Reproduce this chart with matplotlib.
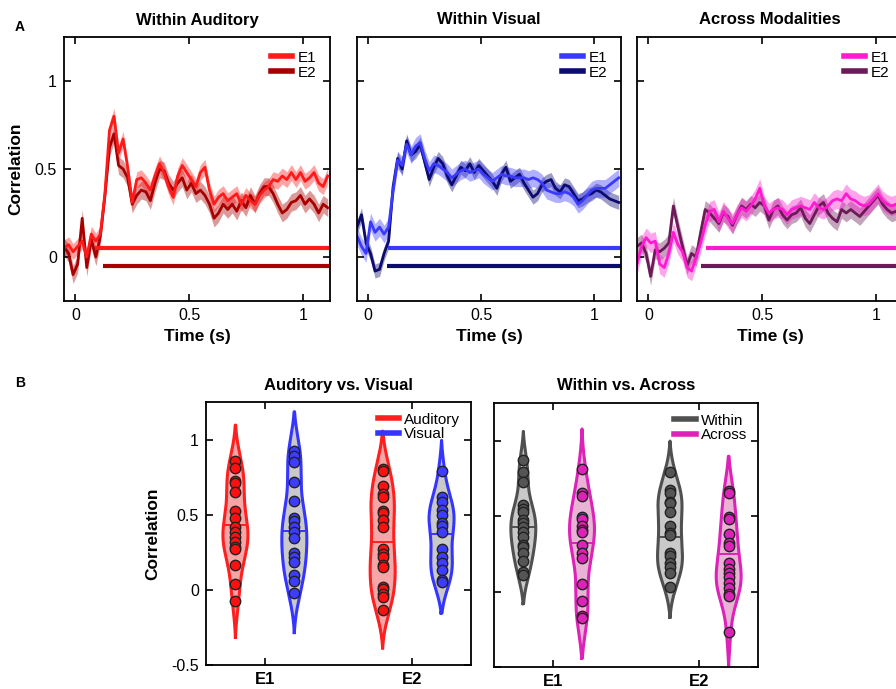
import numpy as np
import matplotlib
matplotlib.use('Agg')
import matplotlib.pyplot as plt
from matplotlib.lines import Line2D

plt.rcParams['font.family'] = ['Liberation Sans', 'DejaVu Sans']
plt.rcParams['axes.unicode_minus'] = False

# ---- panel A data: time courses (mean and sem) ----
time = np.round(np.arange(-0.05, 1.12, 0.02), 2)

aud_e1 = [0.05, 0.07, 0.03, 0.06, 0.09, 0.00, 0.13, 0.09, 0.13, 0.36,
          0.72, 0.80, 0.59, 0.67, 0.51, 0.31, 0.44, 0.45, 0.42, 0.38,
          0.46, 0.53, 0.48, 0.40, 0.34, 0.46, 0.52, 0.48, 0.44, 0.40,
          0.48, 0.51, 0.38, 0.30, 0.34, 0.36, 0.32, 0.34, 0.36, 0.30,
          0.35, 0.32, 0.30, 0.35, 0.38, 0.40, 0.44, 0.43, 0.46, 0.44,
          0.48, 0.44, 0.48, 0.43, 0.45, 0.48, 0.42, 0.40, 0.46]
aud_e2 = [0.06, 0.02, -0.10, -0.04, 0.22, -0.06, 0.10, 0.00, 0.12, 0.35,
          0.62, 0.70, 0.52, 0.50, 0.45, 0.30, 0.35, 0.38, 0.37, 0.32,
          0.42, 0.50, 0.49, 0.42, 0.38, 0.42, 0.45, 0.38, 0.42, 0.36,
          0.38, 0.35, 0.30, 0.22, 0.25, 0.30, 0.27, 0.30, 0.26, 0.32,
          0.28, 0.35, 0.30, 0.36, 0.40, 0.40, 0.36, 0.30, 0.25, 0.27,
          0.31, 0.32, 0.35, 0.30, 0.33, 0.30, 0.25, 0.30, 0.28]
vis_e1 = [0.12, 0.06, 0.02, 0.20, 0.14, 0.17, 0.13, 0.17, 0.38, 0.55,
          0.52, 0.64, 0.58, 0.63, 0.65, 0.56, 0.49, 0.53, 0.52, 0.50,
          0.48, 0.45, 0.47, 0.49, 0.50, 0.48, 0.49, 0.50, 0.47, 0.45,
          0.43, 0.45, 0.47, 0.46, 0.46, 0.45, 0.45, 0.45, 0.44, 0.45,
          0.44, 0.42, 0.38, 0.37, 0.36, 0.36, 0.37, 0.36, 0.34, 0.30,
          0.32, 0.35, 0.38, 0.39, 0.39, 0.39, 0.41, 0.43, 0.45]
vis_e2 = [0.17, 0.24, 0.08, 0.02, -0.08, -0.07, 0.02, 0.09, 0.40, 0.56,
          0.50, 0.66, 0.58, 0.60, 0.64, 0.54, 0.44, 0.51, 0.56, 0.53,
          0.46, 0.41, 0.46, 0.51, 0.49, 0.53, 0.48, 0.52, 0.49, 0.46,
          0.43, 0.39, 0.47, 0.51, 0.43, 0.45, 0.47, 0.42, 0.38, 0.34,
          0.36, 0.41, 0.43, 0.44, 0.39, 0.37, 0.41, 0.40, 0.36, 0.32,
          0.33, 0.35, 0.36, 0.38, 0.37, 0.35, 0.33, 0.32, 0.31]
cross_e1 = [-0.04, 0.06, 0.11, 0.08, 0.09, -0.04, -0.06, 0.02, 0.14, 0.07,
            0.03, -0.06, -0.08, 0.00, 0.08, 0.18, 0.26, 0.27, 0.20, 0.26,
            0.22, 0.19, 0.24, 0.28, 0.26, 0.29, 0.33, 0.39, 0.29, 0.25,
            0.27, 0.28, 0.27, 0.24, 0.27, 0.28, 0.29, 0.28, 0.27, 0.31,
            0.28, 0.27, 0.29, 0.32, 0.33, 0.32, 0.36, 0.33, 0.32, 0.30,
            0.29, 0.30, 0.33, 0.36, 0.32, 0.30, 0.29, 0.30, 0.31]
cross_e2 = [0.06, 0.08, 0.02, -0.11, 0.04, 0.03, 0.05, 0.08, 0.29, 0.17,
            0.06, -0.05, 0.02, 0.00, 0.14, 0.27, 0.25, 0.22, 0.19, 0.25,
            0.23, 0.18, 0.24, 0.29, 0.27, 0.30, 0.28, 0.31, 0.29, 0.21,
            0.27, 0.29, 0.24, 0.21, 0.24, 0.25, 0.28, 0.22, 0.19, 0.24,
            0.29, 0.31, 0.25, 0.22, 0.20, 0.27, 0.25, 0.27, 0.25, 0.23,
            0.26, 0.29, 0.32, 0.35, 0.30, 0.27, 0.25, 0.26, 0.27]

sem_e1 = [0.045, 0.05, 0.055]
sem_e2 = [0.05, 0.04, 0.05]
# onset of significant cluster (s)
sig_e1 = [0.085, 0.087, 0.255]
sig_e2 = [0.12, 0.083, 0.23]

titles_a = ['Within Auditory', 'Within Visual', 'Across Modalities']
col_e1 = ['#ff1a1a', '#3a3aff', '#ff1ad0']
col_e2 = ['#a80000', '#0c0c70', '#6c1a58']

# ---- panel B data: per-subject correlations ----
aud_e1_subj = [0.859, 0.808, 0.724, 0.713, 0.653, 0.525, 0.476, 0.420,
               0.383, 0.354, 0.321, 0.288, 0.272, 0.166, 0.038, -0.077]
vis_e1_subj = [0.923, 0.890, 0.852, 0.715, 0.591, 0.480, 0.458, 0.420,
               0.387, 0.343, 0.243, 0.221, 0.184, 0.100, 0.060, -0.022]
aud_e2_subj = [0.803, 0.792, 0.693, 0.637, 0.615, 0.525, 0.509, 0.465, 0.416,
               0.272, 0.239, 0.221, 0.166, 0.155, 0.022, 0.007, -0.027,
               -0.049, -0.133]
vis_e2_subj = [0.792, 0.620, 0.587, 0.531, 0.498, 0.443, 0.425, 0.387,
               0.270, 0.221, 0.177, 0.133, 0.066, 0.049]
within_e1_subj = [0.872, 0.795, 0.724, 0.574, 0.546, 0.530, 0.475, 0.457,
                  0.430, 0.397, 0.364, 0.309, 0.298, 0.254, 0.205, 0.132,
                  0.110]
across_e1_subj = [0.813, 0.652, 0.634, 0.497, 0.479, 0.435, 0.409, 0.393,
                  0.309, 0.258, 0.221, 0.051, -0.062, -0.165, -0.176]
within_e2_subj = [0.793, 0.673, 0.656, 0.596, 0.585, 0.530, 0.435, 0.387,
                  0.375, 0.258, 0.236, 0.188, 0.166, 0.126, 0.033]
across_e2_subj = [0.667, 0.656, 0.497, 0.481, 0.380, 0.325, 0.303, 0.192,
                  0.148, 0.122, 0.099, 0.055, 0.022, -0.015, -0.028, -0.269]
# group mean lines shown in the violins
av_center = [0.43, 0.39, 0.32, 0.37]
wa_center = [0.43, 0.32, 0.36, 0.25]

W, H = 896, 689
fig = plt.figure(figsize=(W / 100, H / 100), dpi=100)


def add_ax(l, t, w, h):
    return fig.add_axes([l / W, 1 - (t + h) / H, w / W, h / H])


def style(ax):
    ax.tick_params(direction='in', top=True, right=True, length=5,
                   width=1.2, labelsize=11.5, pad=5)
    for s in ax.spines.values():
        s.set_linewidth(1.3)


top_axes = [add_ax(64, 37, 266, 264), add_ax(357, 37, 264, 264),
            add_ax(637, 37, 266, 264)]
series = [(aud_e1, aud_e2), (vis_e1, vis_e2), (cross_e1, cross_e2)]

for i, ax in enumerate(top_axes):
    e1, e2 = np.array(series[i][0]), np.array(series[i][1])
    ax.fill_between(time, e2 - sem_e2[i], e2 + sem_e2[i], color=col_e2[i],
                    alpha=0.4, lw=0)
    ax.fill_between(time, e1 - sem_e1[i], e1 + sem_e1[i], color=col_e1[i],
                    alpha=0.4, lw=0)
    ax.plot(time, e2, color=col_e2[i], lw=2.0, label='E2')
    ax.plot(time, e1, color=col_e1[i], lw=2.0, label='E1')
    ax.plot([sig_e1[i], 1.12], [0.05, 0.05], color=col_e1[i], lw=3,
            solid_capstyle='butt')
    ax.plot([sig_e2[i], 1.12], [-0.05, -0.05], color=col_e2[i], lw=3,
            solid_capstyle='butt')
    ax.set_xlim(-0.05, 1.12)
    ax.set_ylim(-0.25, 1.25)
    ax.set_xticks([0, 0.5, 1], ['0', '0.5', '1'])
    ax.set_yticks([0, 0.5, 1], ['0', '0.5', '1'])
    style(ax)
    if i > 0:
        ax.tick_params(labelleft=False)
    else:
        ax.set_ylabel('Correlation', fontsize=12.5, fontweight='bold',
                      labelpad=8)
    ax.set_xlabel('Time (s)', fontsize=12.5, fontweight='bold', labelpad=4)
    ax.set_title(titles_a[i], fontsize=12, fontweight='bold', pad=9)
    hs = [Line2D([], [], color=col_e1[i], lw=4),
          Line2D([], [], color=col_e2[i], lw=4)]
    ax.legend(hs, ['E1', 'E2'], loc='upper right', frameon=False,
              fontsize=11, handlelength=1.4, handletextpad=0.35,
              labelspacing=0.05, borderaxespad=0.5)


def violin(ax, x, vals, center, face, edge, dot, lw=2.2):
    vals = np.asarray(vals)
    n = len(vals)
    bw = 0.8 * 1.06 * vals.std(ddof=1) * n ** -0.2
    grid = np.linspace(vals.min() - 1.8 * bw, vals.max() + 1.8 * bw, 300)
    dens = np.exp(-0.5 * ((grid[:, None] - vals[None, :]) / bw) ** 2).sum(1)
    dens = dens - dens.min() * 0.9
    half = dens / dens.max() * 0.085
    ax.fill_betweenx(grid, x - half, x + half, color=face, lw=0, zorder=1)
    ax.plot(np.r_[x - half, (x + half)[::-1], x - half[0]],
            np.r_[grid, grid[::-1], grid[0]], color=edge, lw=lw, zorder=2)
    w = np.interp(center, grid, half)
    ax.plot([x - w, x + w], [center, center], color=edge, lw=1.4, zorder=2)
    ax.scatter(np.full(n, x), vals, s=56, c=dot, edgecolors='#222222',
               linewidths=1.0, zorder=3)


ax_b1 = add_ax(206, 402, 265, 263)
ax_b2 = add_ax(494, 403, 264, 264)

b_groups = [
    (ax_b1, 'Auditory vs. Visual',
     [aud_e1_subj, vis_e1_subj, aud_e2_subj, vis_e2_subj], av_center,
     ['Auditory', 'Visual'],
     [('#f6a6a6', '#ff1f1f', '#ff1010'), ('#c9c9c9', '#3535ff', '#3d3dff')]),
    (ax_b2, 'Within vs. Across',
     [within_e1_subj, across_e1_subj, within_e2_subj, across_e2_subj],
     wa_center, ['Within', 'Across'],
     [('#c9c9c9', '#505050', '#555555'), ('#e8b3d4', '#dd22b8', '#dd22b8')]),
]
positions = [0.8, 1.2, 1.8, 2.2]

for k, (ax, title, data, centers, names, cols) in enumerate(b_groups):
    for j in range(4):
        face, edge, dot = cols[j % 2]
        violin(ax, positions[j], data[j], centers[j], face, edge, dot)
    ax.set_xlim(0.6, 2.4)
    ax.set_ylim(-0.5, 1.25)
    ax.set_xticks([1, 2], ['E1', 'E2'])
    ax.set_yticks([-0.5, 0, 0.5, 1], ['-0.5', '0', '0.5', '1'])
    style(ax)
    for lab in ax.get_xticklabels():
        lab.set_fontweight('bold')
        lab.set_fontsize(12)
    if k == 1:
        ax.tick_params(labelleft=False)
    else:
        ax.set_ylabel('Correlation', fontsize=12.5, fontweight='bold',
                      labelpad=8)
    ax.set_title(title, fontsize=12, fontweight='bold', pad=9)
    hs = [Line2D([], [], color=cols[0][1], lw=4),
          Line2D([], [], color=cols[1][1], lw=4)]
    ax.legend(hs, names, loc='upper right', frameon=False, fontsize=11,
              handlelength=1.4, handletextpad=0.35, labelspacing=0.05,
              borderaxespad=0.3)

fig.text(20 / W, 1 - 27 / H, 'A', fontsize=10, fontweight='bold',
         ha='center', va='center')
fig.text(20 / W, 1 - 383 / H, 'B', fontsize=10, fontweight='bold',
         ha='center', va='center')

fig.savefig('out.png', dpi=100)
